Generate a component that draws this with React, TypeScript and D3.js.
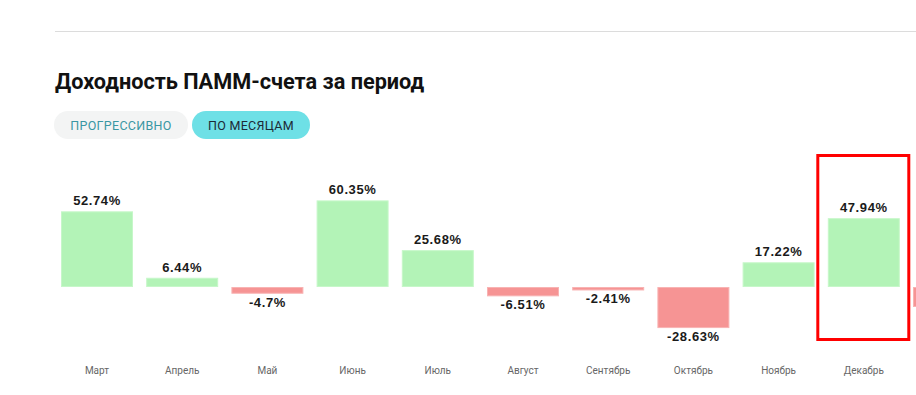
import React, { useEffect, useRef } from "react";
import * as d3 from "d3";

// monthly returns, %
const months = ["Март", "Апрель", "Май", "Июнь", "Июль", "Август", "Сентябрь", "Октябрь", "Ноябрь", "Декабрь", "Январь"];
const returns = [52.74, 6.44, -4.7, 60.35, 25.68, -6.51, -2.41, -28.63, 17.22, 47.94, -13.9];
const tabs = ["ПРОГРЕССИВНО", "ПО МЕСЯЦАМ"];
const highlighted = "Декабрь";

const W = 916;
const H = 395;

const App = () => {
  const svgRef = useRef<SVGSVGElement>(null);

  useEffect(() => {
    const svg = d3.select(svgRef.current);
    svg.selectAll("*").remove();

    // divider above the title
    svg.append("line")
      .attr("x1", 55).attr("x2", W)
      .attr("y1", 31.5).attr("y2", 31.5)
      .attr("stroke", "#dcdcdc").attr("stroke-width", 1);

    svg.append("text")
      .attr("x", 55).attr("y", 89)
      .attr("font-family", "Roboto, sans-serif")
      .attr("font-weight", 700)
      .attr("font-size", 21.7)
      .attr("fill", "#111")
      .text("Доходность ПАММ-счета за период");

    // period tabs
    const tabBoxes = [
      { x: 54, w: 134, fill: "#f3f4f4", color: "#3a97a3" },
      { x: 192, w: 118, fill: "#6ee0e6", color: "#1d2a36" },
    ];
    tabs.forEach((t, i) => {
      const b = tabBoxes[i];
      svg.append("rect")
        .attr("x", b.x).attr("y", 111)
        .attr("width", b.w).attr("height", 28)
        .attr("rx", 14)
        .attr("fill", b.fill);
      svg.append("text")
        .attr("x", b.x + b.w / 2).attr("y", 129.5)
        .attr("text-anchor", "middle")
        .attr("font-family", "Roboto, sans-serif")
        .attr("font-size", 12.5)
        .attr("letter-spacing", 0.3)
        .attr("fill", b.color)
        .text(t);
    });

    const x = d3.scaleBand<string>()
      .domain(months)
      .range([54.4, 991.6])
      .paddingInner(0.155)
      .paddingOuter(0.0775);

    const y = d3.scaleLinear().domain([-40, 70]).range([287 + 57.4, 287 - 100.45]);

    const g = svg.append("g");
    months.forEach((m, i) => {
      const v = returns[i];
      const pos = v >= 0;
      const x0 = x(m)!;
      const cx = x0 + x.bandwidth() / 2;
      const top = y(Math.max(0, v));
      const bottom = y(Math.min(0, v));
      g.append("rect")
        .attr("x", x0 + 0.5).attr("y", top + 0.5)
        .attr("width", x.bandwidth() - 1)
        .attr("height", Math.max(0, bottom - top - 1))
        .attr("fill", pos ? "#b3f3b7" : "#f69494")
        .attr("stroke", pos ? "#c6f7c9" : "#f8b3b3")
        .attr("stroke-width", 1);

      // the chart scrolls horizontally; labels of bars past the edge stay hidden
      if (cx > W) return;

      g.append("text")
        .attr("x", cx)
        .attr("y", pos ? top - 6 : bottom + 13)
        .attr("text-anchor", "middle")
        .attr("font-family", "'Liberation Sans', Arial, sans-serif")
        .attr("font-weight", 700)
        .attr("font-size", 13)
        .attr("letter-spacing", 0.6)
        .attr("fill", "#1a1a1a")
        .text(`${v}%`);

      g.append("text")
        .attr("x", cx)
        .attr("y", 374)
        .attr("text-anchor", "middle")
        .attr("font-family", "Roboto, sans-serif")
        .attr("font-size", 10)
        .attr("fill", "#666")
        .text(m);
    });

    // highlight frame around the selected month
    const hx = x(highlighted)!;
    svg.append("rect")
      .attr("x", hx - 10).attr("y", 155.5)
      .attr("width", x.bandwidth() + 19)
      .attr("height", 184)
      .attr("fill", "none")
      .attr("stroke", "#ff0000")
      .attr("stroke-width", 3);
  }, []);

  return (
    <svg
      ref={svgRef}
      width={W}
      height={H}
      style={{ position: "absolute", left: 0, top: 0, background: "#fff" }}
    />
  );
};

export default App;
